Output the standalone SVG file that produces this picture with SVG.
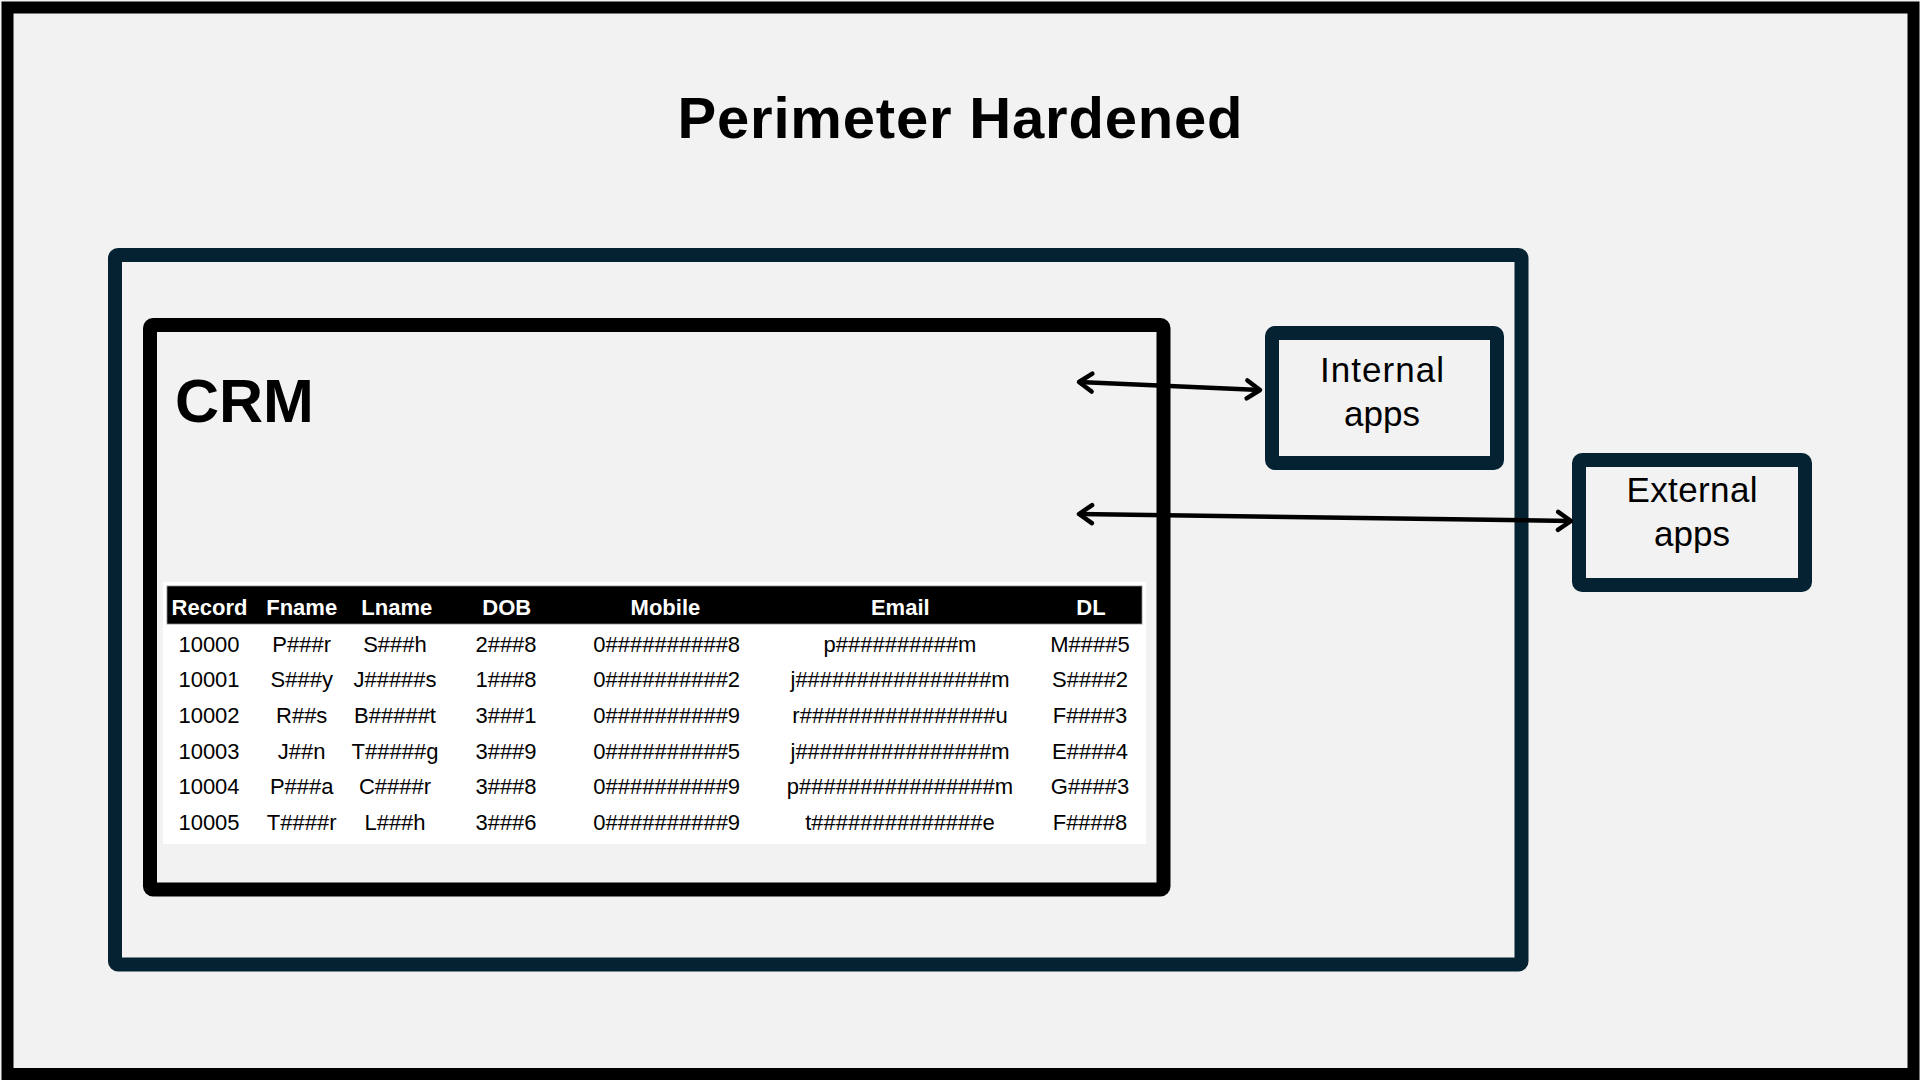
<svg xmlns="http://www.w3.org/2000/svg" width="1920" height="1080" viewBox="0 0 1920 1080">
  <style>
    .frame { fill: #F2F2F2; stroke: #000000; stroke-width: 12; }
    .zone { fill: none; stroke: #052232; stroke-width: 14; }
    .crm { fill: none; stroke: #000000; stroke-width: 14; }
    .app { fill: #F2F2F2; stroke: #052232; stroke-width: 14; }
    .title { font-family: "Liberation Sans", Arial, sans-serif; font-weight: bold; fill: #000; }
    .applbl { font-family: "Liberation Sans", Arial, sans-serif; font-size: 35px; fill: #000; text-anchor: middle; }
    .th { font-family: "Liberation Sans", Arial, sans-serif; font-size: 22px; font-weight: bold; fill: #FFFFFF; text-anchor: middle; }
    .td { font-family: "Liberation Sans", Arial, sans-serif; font-size: 22px; fill: #000000; text-anchor: middle; }
    .conn { fill: none; stroke: #000000; stroke-width: 4.5; marker-start: url(#chev); marker-end: url(#chev); }
  </style>
  <defs>
    <marker id="chev" markerUnits="userSpaceOnUse" markerWidth="40" markerHeight="40" refX="0" refY="0" orient="auto-start-reverse" overflow="visible">
      <path d="M-13,-9 L0,0 L-13,9" fill="none" stroke="#000000" stroke-width="4.5" stroke-linecap="round" stroke-linejoin="round"/>
    </marker>
  </defs>

  <rect x="0" y="0" width="1920" height="1080" fill="#F2F2F2"/>

  <g id="outer-frame">
    <rect class="frame" x="7.5" y="7.5" width="1906" height="1066.5"/>
    <text class="title" x="960" y="137.5" font-size="58" text-anchor="middle" textLength="565">Perimeter Hardened</text>
  </g>

  <g id="perimeter">
    <rect class="zone" x="115" y="255" width="1406.5" height="709.5" rx="3"/>
  </g>

  <g id="crm">
    <rect class="crm" x="150" y="325" width="1013.5" height="564.5" rx="3"/>
    <text class="title" x="175" y="421.5" font-size="61">CRM</text>
    <g id="crm-table">
      <rect x="163" y="582" width="983" height="262" fill="#FFFFFF"/>
      <rect x="167" y="586" width="975" height="38" fill="#000000" stroke="#8a8a8a" stroke-width="0.8"/>
      <text class="th" y="614.5"><tspan x="209.5">Record</tspan><tspan x="301.7">Fname</tspan><tspan x="396.8">Lname</tspan><tspan x="506.7">DOB</tspan><tspan x="665.4">Mobile</tspan><tspan x="900.3">Email</tspan><tspan x="1091">DL</tspan></text>
      <text class="td" y="651.5"><tspan x="209">10000</tspan><tspan x="301.7">P###r</tspan><tspan x="395">S###h</tspan><tspan x="506">2###8</tspan><tspan x="666.7">0##########8</tspan><tspan x="900">p##########m</tspan><tspan x="1090">M####5</tspan></text>
      <text class="td" y="687.3"><tspan x="209">10001</tspan><tspan x="301.7">S###y</tspan><tspan x="395">J#####s</tspan><tspan x="506">1###8</tspan><tspan x="666.7">0##########2</tspan><tspan x="900">j################m</tspan><tspan x="1090">S####2</tspan></text>
      <text class="td" y="723"><tspan x="209">10002</tspan><tspan x="301.7">R##s</tspan><tspan x="395">B#####t</tspan><tspan x="506">3###1</tspan><tspan x="666.7">0##########9</tspan><tspan x="900">r################u</tspan><tspan x="1090">F####3</tspan></text>
      <text class="td" y="758.7"><tspan x="209">10003</tspan><tspan x="301.7">J##n</tspan><tspan x="395">T#####g</tspan><tspan x="506">3###9</tspan><tspan x="666.7">0##########5</tspan><tspan x="900">j################m</tspan><tspan x="1090">E####4</tspan></text>
      <text class="td" y="794.3"><tspan x="209">10004</tspan><tspan x="301.7">P###a</tspan><tspan x="395">C####r</tspan><tspan x="506">3###8</tspan><tspan x="666.7">0##########9</tspan><tspan x="900">p################m</tspan><tspan x="1090">G####3</tspan></text>
      <text class="td" y="830"><tspan x="209">10005</tspan><tspan x="301.7">T####r</tspan><tspan x="395">L###h</tspan><tspan x="506">3###6</tspan><tspan x="666.7">0##########9</tspan><tspan x="900">t##############e</tspan><tspan x="1090">F####8</tspan></text>
    </g>
  </g>

  <g id="internal-apps">
    <rect class="app" x="1272" y="333" width="225" height="130" rx="3"/>
    <text class="applbl" x="1382" y="382" textLength="124">Internal</text>
    <text class="applbl" x="1382" y="426">apps</text>
  </g>

  <g id="external-apps">
    <rect class="app" x="1579" y="460" width="226" height="125" rx="3"/>
    <text class="applbl" x="1692" y="501.5" font-size="34" textLength="131">External</text>
    <text class="applbl" x="1692" y="546" font-size="34">apps</text>
  </g>

  <g id="connectors">
    <line class="conn" x1="1079" y1="382" x2="1260" y2="390"/>
    <line class="conn" x1="1079" y1="514" x2="1571" y2="521"/>
  </g>
</svg>
